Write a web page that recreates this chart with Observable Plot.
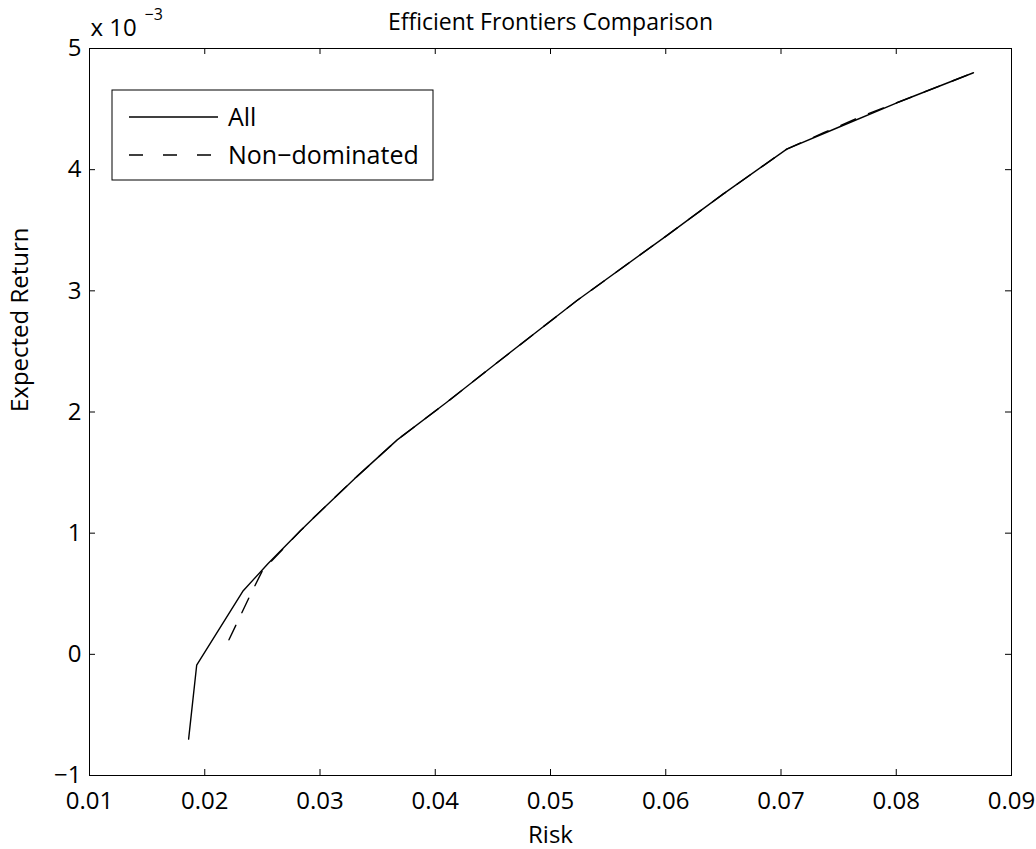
<!DOCTYPE html>
<html>
<head>
<meta charset="utf-8">
<script src="https://cdn.jsdelivr.net/npm/d3@7"></script>
<script src="https://cdn.jsdelivr.net/npm/@observablehq/plot@0.6"></script>
<style>
  html, body { margin: 0; padding: 0; background: #fff; }
  #chart { width: 1036px; height: 849px; }
  svg { font-family: "Open Sans", sans-serif; }
</style>
</head>
<body>
<div id="chart"></div>
<script>
// ---- data (risk, expected return x 1e-3) ----
const allRisk   = [0.0186, 0.0193, 0.0233, 0.0255, 0.0283, 0.0297, 0.0330, 0.0367, 0.0410, 0.0450, 0.0523, 0.0600, 0.0650, 0.0705, 0.0750, 0.0800, 0.0867];
const allReturn = [-0.70, -0.09, 0.52, 0.75, 1.02, 1.15, 1.45, 1.77, 2.08, 2.38, 2.92, 3.45, 3.80, 4.17, 4.35, 4.55, 4.80];

const ndRisk   = [0.0221, 0.0240, 0.0250, 0.0283, 0.0297, 0.0330, 0.0367, 0.0410, 0.0450, 0.0523, 0.0600, 0.0650, 0.0705, 0.0737, 0.0775, 0.0800, 0.0867];
const ndReturn = [0.12, 0.50, 0.69, 1.02, 1.15, 1.45, 1.77, 2.08, 2.38, 2.92, 3.45, 3.80, 4.17, 4.305, 4.46, 4.55, 4.80];

const xTicks = [0.01, 0.02, 0.03, 0.04, 0.05, 0.06, 0.07, 0.08, 0.09];
const yTicks = [-1, 0, 1, 2, 3, 4, 5];
const xTickLabels = ["0.01", "0.02", "0.03", "0.04", "0.05", "0.06", "0.07", "0.08", "0.09"];
const yTickLabels = ["\u22121", "0", "1", "2", "3", "4", "5"];

const title = "Efficient Frontiers Comparison";
const xLabel = "Risk";
const yLabel = "Expected Return";
const exponentBase = "x 10";
const exponentPower = "\u22123";
const seriesNames = ["All", "Non\u2212dominated"];

const allData = allRisk.map((r, i) => ({risk: r, ret: allReturn[i]}));
const ndData = ndRisk.map((r, i) => ({risk: r, ret: ndReturn[i]}));

const FS = 24;
const W = 1036, H = 849;
const mL = 89, mR = 25, mT = 48, mB = 74;
const frameW = W - mL - mR, frameH = H - mT - mB;
const TL = 6; // tick length (inward)
const DASH = "16,14";

const plot = Plot.plot({
  width: W,
  height: H,
  marginLeft: mL,
  marginRight: mR,
  marginTop: mT,
  marginBottom: mB,
  style: {fontFamily: "'Open Sans', sans-serif", fontSize: FS + "px", color: "#000", background: "#fff", overflow: "visible"},
  x: {domain: [0.01, 0.09], ticks: xTicks, tickSize: 0, tickPadding: 16, label: null,
      tickFormat: d => xTickLabels[xTicks.findIndex(t => Math.abs(t - d) < 1e-9)]},
  y: {domain: [-1, 5], ticks: yTicks, tickSize: 0, tickPadding: 8, label: null,
      tickFormat: d => yTickLabels[yTicks.indexOf(d)]},
  marks: [
    // inward ticks on all four sides
    Plot.ruleX(xTicks, {x: d => d, insetTop: frameH - TL, stroke: "#000"}),
    Plot.ruleX(xTicks, {x: d => d, insetBottom: frameH - TL, stroke: "#000"}),
    Plot.ruleY(yTicks, {y: d => d, insetRight: frameW - TL, stroke: "#000"}),
    Plot.ruleY(yTicks, {y: d => d, insetLeft: frameW - TL, stroke: "#000"}),
    Plot.frame({stroke: "#000", strokeWidth: 1}),
    Plot.line(allData, {x: "risk", y: "ret", stroke: "#000", strokeWidth: 1.4}),
    Plot.line(ndData, {x: "risk", y: "ret", stroke: "#000", strokeWidth: 1.4, strokeDasharray: DASH}),
    Plot.text([title], {frameAnchor: "top", lineAnchor: "middle", dy: -26, fontSize: FS - 1, fill: "#000"}),
    Plot.text([xLabel], {frameAnchor: "bottom", lineAnchor: "middle", dy: 60, fontSize: FS, fill: "#000"}),
    Plot.text([exponentBase], {frameAnchor: "top-left", lineAnchor: "middle", dx: 1, dy: -20, textAnchor: "start", fontSize: FS, fill: "#000"}),
    Plot.text([exponentPower], {frameAnchor: "top-left", lineAnchor: "middle", dx: 55, dy: -34, textAnchor: "start", fontSize: 16, fill: "#000"}),
    Plot.text([yLabel], {frameAnchor: "left", lineAnchor: "middle", dx: -69, rotate: -90, fontSize: FS, fill: "#000"})
  ]
});

// legend box inside the frame (upper-left)
const svg = d3.select(plot);
const lg = svg.append("g").attr("transform", `translate(${mL + 23},${mT + 42})`);
lg.append("rect").attr("x", 0).attr("y", 0).attr("width", 321).attr("height", 90)
  .attr("fill", "#fff").attr("stroke", "#000").attr("stroke-width", 1);
const styles = [null, "14,20"];
seriesNames.forEach((name, i) => {
  const yy = 27 + i * 38;
  lg.append("line").attr("x1", 17).attr("x2", 106).attr("y1", yy).attr("y2", yy)
    .attr("stroke", "#000").attr("stroke-width", 1.4)
    .attr("stroke-dasharray", styles[i]);
  lg.append("text").attr("x", 116).attr("y", yy).attr("dy", "0.35em")
    .attr("text-anchor", "start")
    .attr("font-size", FS + 1).attr("fill", "#000").text(name);
});

document.getElementById("chart").appendChild(plot);
</script>
</body>
</html>
